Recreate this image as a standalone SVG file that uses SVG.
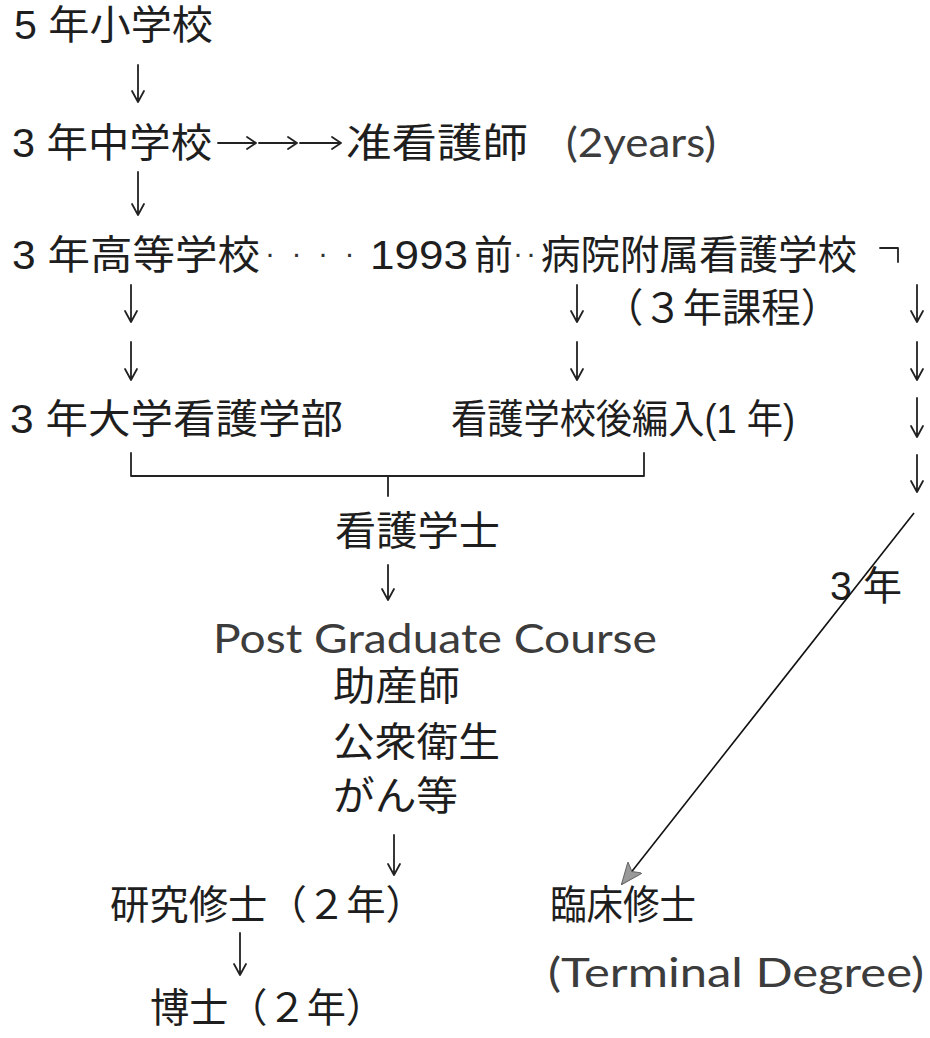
<svg xmlns="http://www.w3.org/2000/svg" width="930" height="1038" viewBox="0 0 930 1038">
<defs>
<style>
.t{font-family:"Liberation Sans","Noto Sans CJK JP",sans-serif;font-size:40px;fill:#1e1e1e}
.g{font-family:"Lato","Noto Sans CJK JP",sans-serif;font-size:40px;fill:#3c3c3c}
.d{font-family:"Liberation Sans",sans-serif;font-size:30px;fill:#333}
.a{fill:none;stroke:#222;stroke-width:1.8;stroke-linecap:round;stroke-linejoin:round}
.ln{fill:none;stroke:#111;stroke-width:1.6}
</style>
<marker id="ah" viewBox="0 0 22 18" refX="21" refY="9" markerWidth="22" markerHeight="18" markerUnits="userSpaceOnUse" orient="auto">
<path d="M0 0 L22 9 L0 18 L5 9 Z" fill="#9a9a9a" stroke="#666" stroke-width="1"/>
</marker>
</defs>
<rect width="930" height="1038" fill="#fff"/>

<g id="n-elementary"><text class="t" x="14" y="39" textLength="199" lengthAdjust="spacingAndGlyphs">5 年小学校</text></g>
<g id="n-junior"><text class="t" x="12" y="157" textLength="200" lengthAdjust="spacingAndGlyphs">3 年中学校</text></g>
<g id="n-assoc-nurse"><text class="t" x="346" y="157" textLength="182" lengthAdjust="spacingAndGlyphs">准看護師</text><text class="g" x="566" y="157" textLength="150" lengthAdjust="spacingAndGlyphs">(2years)</text></g>
<g id="n-high"><text class="t" x="12" y="269" textLength="248" lengthAdjust="spacingAndGlyphs">3 年高等学校</text></g>
<g id="n-1993"><text class="d" x="265" y="263" letter-spacing="16.5">····</text><text class="t" x="370" y="269" textLength="98" lengthAdjust="spacingAndGlyphs">1993</text><text class="t" x="474" y="269" textLength="39" lengthAdjust="spacingAndGlyphs">前</text><text class="d" x="513" y="263" letter-spacing="3">··</text></g>
<g id="n-hospital-school"><text class="t" x="541" y="269" textLength="316" lengthAdjust="spacingAndGlyphs">病院附属看護学校</text><text class="t" x="604" y="322" textLength="236" lengthAdjust="spacingAndGlyphs">（３年課程）</text></g>
<g id="n-univ"><text class="t" x="10" y="433" textLength="333" lengthAdjust="spacingAndGlyphs">3 年大学看護学部</text></g>
<g id="n-transfer"><text class="t" x="451" y="433" textLength="344" lengthAdjust="spacingAndGlyphs">看護学校後編入(1 年)</text></g>
<g id="n-bachelor"><text class="t" x="335" y="545" textLength="165" lengthAdjust="spacingAndGlyphs">看護学士</text></g>
<g id="n-postgrad">
<text class="g" x="213" y="653" font-size="37" textLength="444" lengthAdjust="spacingAndGlyphs">Post Graduate Course</text>
<text class="t" x="333" y="700" textLength="127" lengthAdjust="spacingAndGlyphs">助産師</text>
<text class="t" x="333" y="756" textLength="167" lengthAdjust="spacingAndGlyphs">公衆衛生</text>
<text class="t" x="333" y="810" textLength="125" lengthAdjust="spacingAndGlyphs">がん等</text>
</g>
<g id="n-research-master"><text class="t" x="110" y="919" textLength="315" lengthAdjust="spacingAndGlyphs">研究修士（２年）</text></g>
<g id="n-clinical-master"><text class="t" x="550" y="919" textLength="146" lengthAdjust="spacingAndGlyphs">臨床修士</text><text class="g" x="548" y="987" font-size="38" textLength="376" lengthAdjust="spacingAndGlyphs">(Terminal Degree)</text></g>
<g id="n-doctor"><text class="t" x="150" y="1022" textLength="235" lengthAdjust="spacingAndGlyphs">博士（２年）</text></g>
<g id="l-3years"><text class="t" x="830" y="600" textLength="72" lengthAdjust="spacingAndGlyphs">3 年</text></g>

<g id="connectors">
<path class="a" d="M138 65 V102 M132 91 L138 102 L144 91"/>
<path class="a" d="M138 172 V215 M132 204 L138 215 L144 204"/>
<path class="a" d="M218 143 H256 M247 137 L256 143 L247 149 M259 143 H297 M288 137 L297 143 L288 149 M300 143 H341 M332 137 L341 143 L332 149"/>
<path class="a" d="M131 285 V322 M125 311 L131 322 L137 311"/>
<path class="a" d="M131 342 V380 M125 369 L131 380 L137 369"/>
<path class="a" d="M577 285 V322 M571 311 L577 322 L583 311"/>
<path class="a" d="M577 342 V380 M571 369 L577 380 L583 369"/>
<path class="a" d="M880 248 H898 V262"/>
<path class="a" d="M917 285 V322 M911 311 L917 322 L923 311"/>
<path class="a" d="M917 342 V380 M911 369 L917 380 L923 369"/>
<path class="a" d="M917 398 V437 M911 426 L917 437 L923 426"/>
<path class="a" d="M917 455 V492 M911 481 L917 492 L923 481"/>
<path class="a" d="M131 453 V476 H644 V453 M388 476 V496"/>
<path class="a" d="M388 565 V600 M382 589 L388 600 L394 589"/>
<path class="a" d="M394 835 V875 M388 864 L394 875 L400 864"/>
<path class="a" d="M240 933 V975 M234 964 L240 975 L246 964"/>
<path class="ln" d="M914 513 L622 884" marker-end="url(#ah)"/>
</g>
</svg>
